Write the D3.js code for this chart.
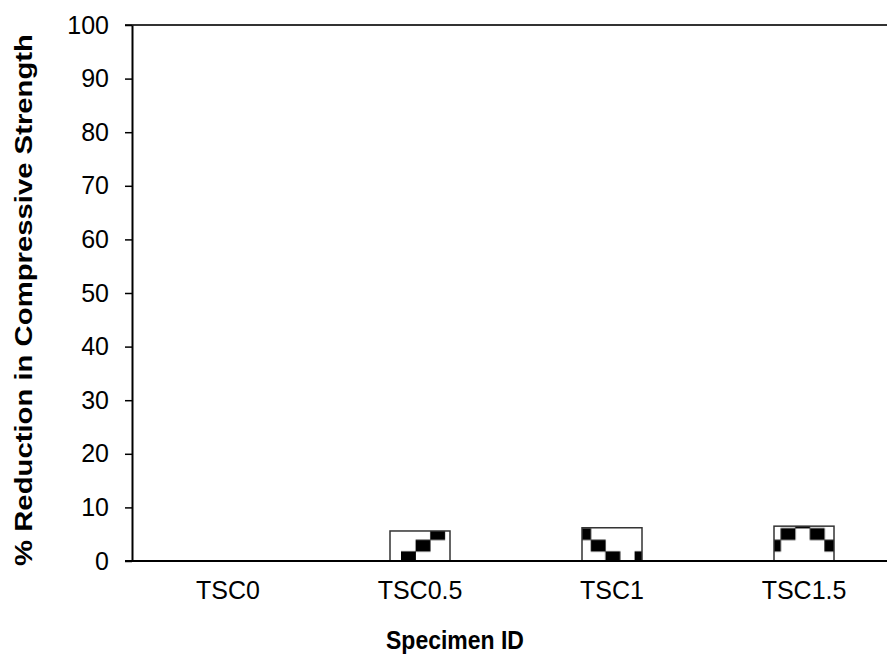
<!DOCTYPE html>
<html>
<head>
<meta charset="utf-8">
<script src="https://cdn.jsdelivr.net/npm/d3@7"></script>
<style>
  html, body { margin: 0; padding: 0; background: #fff; }
  svg { display: block; }
  text { font-family: "Liberation Sans", Arial, sans-serif; fill: #000; }
</style>
</head>
<body>
<svg id="chart" width="887" height="656"></svg>
<script>
// ---- data ----
const categories = ["TSC0", "TSC0.5", "TSC1", "TSC1.5"];
const reduction = [0, 5.6, 6.2, 6.5];
const yTicks = [0, 10, 20, 30, 40, 50, 60, 70, 80, 90, 100];
const xTitle = "Specimen ID";
const yTitle = "% Reduction in Compressive Strength";

// ---- layout ----
const W = 887, H = 656;
const mLeft = 132, mTop = 25, mBottom = 561, mRight = 900;

const svg = d3.select("#chart");

const x = d3.scaleBand().domain(categories).range([mLeft, mRight]).padding(0);
const y = d3.scaleLinear().domain([0, 100]).range([mBottom, mTop]);
const barFrac = 0.3125;

// zigzag pattern (Excel-style)
const cw = 14.6, rh = 11.6;
const zig = [3, 2, 1, 0, 1, 2, 3, 4];
const defs = svg.append("defs");
const pat = defs.append("pattern")
  .attr("id", "zigzag")
  .attr("patternUnits", "userSpaceOnUse")
  .attr("x", 401).attr("y", 516.5)
  .attr("width", cw * 8).attr("height", rh * 8);
pat.append("rect").attr("width", cw * 8).attr("height", rh * 8).attr("fill", "#fff");
pat.selectAll("rect.z").data(zig).enter().append("rect")
  .attr("class", "z")
  .attr("x", (d, i) => i * cw)
  .attr("y", d => d * rh)
  .attr("width", cw + 0.3)
  .attr("height", rh + 0.3)
  .attr("fill", "#000");

// bars
svg.append("g").selectAll("rect")
  .data(categories.map((c, i) => ({ c, v: reduction[i] })))
  .enter().append("rect")
  .attr("x", d => x(d.c) + x.bandwidth() * (1 - barFrac) / 2)
  .attr("width", x.bandwidth() * barFrac)
  .attr("y", d => y(d.v))
  .attr("height", d => y(0) - y(d.v))
  .attr("fill", "url(#zigzag)")
  .attr("stroke", "#333")
  .attr("stroke-width", 1.5);

// top border
svg.append("line")
  .attr("x1", mLeft - 7).attr("x2", W)
  .attr("y1", y(100)).attr("y2", y(100))
  .attr("stroke", "#333").attr("stroke-width", 2);

// y axis
const yAxis = d3.axisLeft(y).tickValues(yTicks).tickSize(7).tickSizeOuter(0).tickPadding(16);
const gy = svg.append("g").attr("transform", `translate(${mLeft},0)`).call(yAxis);
gy.select(".domain").attr("stroke", "#000").attr("stroke-width", 2);
gy.selectAll(".tick line").attr("stroke", "#000").attr("stroke-width", 1.5);
gy.selectAll(".tick text").style("font-size", "25px").style("font-family", "Liberation Sans, Arial, sans-serif").attr("fill", "#000");

// x axis
const xAxis = d3.axisBottom(x).tickSize(0).tickSizeOuter(0).tickPadding(20);
const gx = svg.append("g").attr("transform", `translate(0,${mBottom})`).call(xAxis);
gx.select(".domain").remove();
gx.selectAll(".tick text").style("font-size", "25px").style("font-family", "Liberation Sans, Arial, sans-serif").attr("fill", "#000");
svg.append("line")
  .attr("x1", mLeft - 7).attr("x2", W)
  .attr("y1", mBottom).attr("y2", mBottom)
  .attr("stroke", "#000").attr("stroke-width", 2);

// titles
svg.append("text")
  .attr("transform", "translate(455,649) scale(1,1.1)")
  .attr("text-anchor", "middle")
  .style("font-size", "23px").style("font-weight", "bold")
  .text(xTitle);
svg.append("text")
  .attr("transform", "translate(32,300) rotate(-90) scale(1.22,1)")
  .attr("text-anchor", "middle")
  .style("font-size", "24px").style("font-weight", "bold")
  .text(yTitle);
</script>
</body>
</html>
